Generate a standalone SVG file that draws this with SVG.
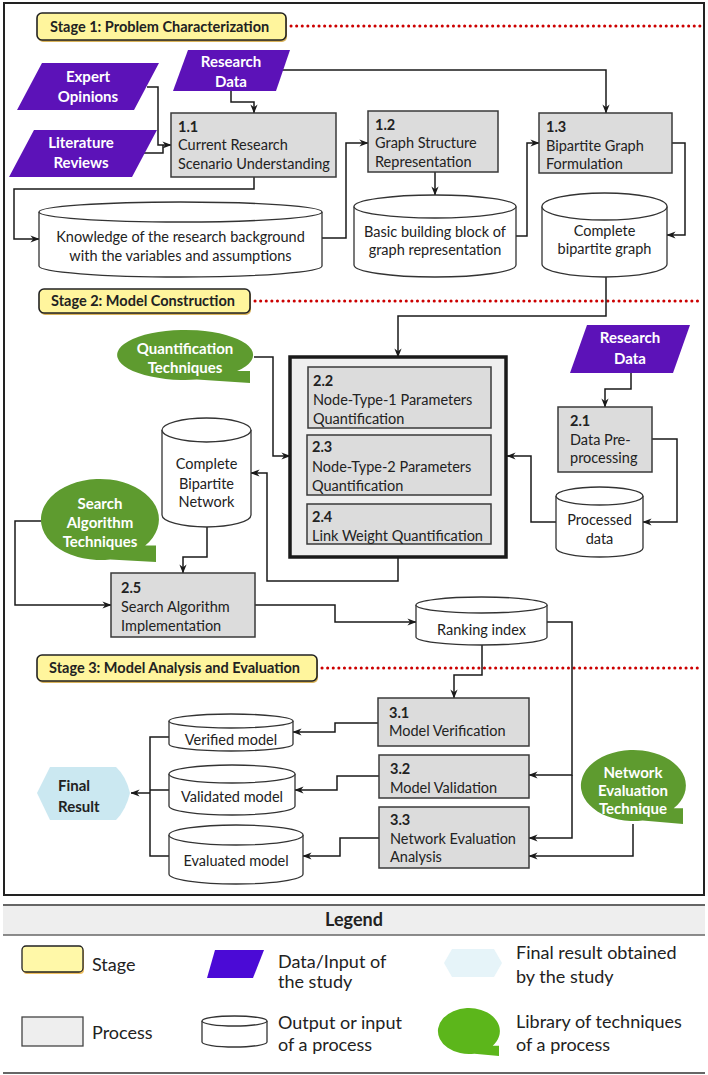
<svg xmlns="http://www.w3.org/2000/svg" width="708" height="1075" viewBox="0 0 708 1075">
<defs>
<style>
.t{font-family:Lato,"Liberation Sans",sans-serif;font-size:14.5px;fill:#222}
.b{font-weight:bold}
.w{fill:#fff;font-weight:bold;font-size:15px}
.c{text-anchor:middle}
.lg{font-size:18px}
.proc{fill:#dcdcdc;stroke:#3a3a3a;stroke-width:1.5}
.cyl{fill:#fff;stroke:#333;stroke-width:1.3}
.data{fill:#5c12b8}
.lib{fill:#5e9b2f}
.stage{fill:#fff59d;stroke:#222;stroke-width:1.6}
.shadow{fill:#d9b35a}
.conn{fill:none;stroke:#1a1a1a;stroke-width:1.5;marker-end:url(#ah)}
.line{fill:none;stroke:#1a1a1a;stroke-width:1.5}
.dots{stroke:#cc0000;stroke-width:3;stroke-dasharray:0.1 5.5;stroke-linecap:round}
</style>
<marker id="ah" viewBox="0 0 10 10" refX="9.5" refY="5" markerWidth="9" markerHeight="9" markerUnits="userSpaceOnUse" orient="auto">
<path d="M0,1 L10,5 L0,9 L3,5 Z" fill="#1a1a1a"/>
</marker>
</defs>
<rect width="708" height="1075" fill="#fff"/>
<rect x="4" y="3" width="700" height="892" fill="none" stroke="#222" stroke-width="2"/>

<!-- stages -->
<g id="stage1">
<rect class="shadow" x="38" y="15" width="249" height="27" rx="5"/>
<rect class="stage" x="37" y="13" width="249" height="27" rx="5"/>
<text class="t b" x="50" y="32">Stage 1: Problem Characterization</text>
<line class="dots" x1="291" y1="26" x2="700" y2="26"/>
</g>
<g id="stage2">
<rect class="shadow" x="40" y="291" width="211" height="24" rx="5"/>
<rect class="stage" x="39" y="289" width="211" height="24" rx="5"/>
<text class="t b" x="51" y="306">Stage 2: Model Construction</text>
<line class="dots" x1="255" y1="301" x2="700" y2="301"/>
</g>
<g id="stage3">
<rect class="shadow" x="38" y="657" width="280" height="26" rx="5"/>
<rect class="stage" x="37" y="655" width="280" height="26" rx="5"/>
<text class="t b" x="49" y="673">Stage 3: Model Analysis and Evaluation</text>
<line class="dots" x1="322" y1="668" x2="700" y2="668"/>
</g>

<!-- connectors -->
<g id="connectors">
<path class="conn" d="M231,91 V102 H254 V113"/>
<path class="conn" d="M147,87 H158 V145 H171"/>
<path class="line" d="M138,153 H163 V145"/>
<path class="conn" d="M282,70 H606 V113"/>
<path class="conn" d="M254,177 V189 H14 V239 H39"/>
<path class="conn" d="M322,238 H346 V143 H368"/>
<path class="conn" d="M435,172 V195"/>
<path class="conn" d="M516,236 H527 V143 H539"/>
<path class="conn" d="M672,143 H685 V235 H667"/>
<path class="conn" d="M606,277 V316 H398 V357"/>
<path class="conn" d="M254,357 H273 V456 H290"/>
<path class="conn" d="M631,373 V389 H605 V407"/>
<path class="conn" d="M652,439 H677 V522 H643"/>
<path class="conn" d="M556,522 H531 V456 H507"/>
<path class="conn" d="M398,557 V581 H267 V473 H251"/>
<path class="conn" d="M207,527 V557 H183 V573"/>
<path class="conn" d="M41,521 H15 V605 H111"/>
<path class="conn" d="M255,605 H335 V622 H416"/>
<path class="conn" d="M482,645 V675 H454 V698"/>
<path class="conn" d="M547,622 H572 V775 H529"/>
<path class="conn" d="M572,775 V838 H529"/>
<path class="conn" d="M633,824 V856 H529"/>
<path class="conn" d="M378,723 H335 V732 H293"/>
<path class="conn" d="M379,776 H337 V790 H295"/>
<path class="conn" d="M379,838 H340 V856 H303"/>
<path class="line" d="M169,737 H150 V856 H169 M169,790 H150"/>
<path class="conn" d="M150,793 H131"/>
</g>

<!-- stage 1 nodes -->
<g id="expert-opinions">
<polygon class="data" points="42,63 159,63 134,110 17,110"/>
<text class="t w c" x="88" y="82">Expert</text>
<text class="t w c" x="88" y="102">Opinions</text>
</g>
<g id="literature-reviews">
<polygon class="data" points="34,130 157,130 132,177 9,177"/>
<text class="t w c" x="81" y="148">Literature</text>
<text class="t w c" x="81" y="168">Reviews</text>
</g>
<g id="research-data-1">
<polygon class="data" points="188,50 290,50 276,91 173,91"/>
<text class="t w c" x="231" y="67">Research</text>
<text class="t w c" x="231" y="87">Data</text>
</g>
<g id="p1-1">
<rect class="proc" x="171" y="113" width="165" height="64"/>
<text class="t b" x="178" y="132">1.1</text>
<text class="t" x="178" y="150">Current Research</text>
<text class="t" x="178" y="169">Scenario Understanding</text>
</g>
<g id="p1-2">
<rect class="proc" x="368" y="111" width="130" height="61"/>
<text class="t b" x="375" y="130">1.2</text>
<text class="t" x="375" y="148">Graph Structure</text>
<text class="t" x="375" y="167">Representation</text>
</g>
<g id="p1-3">
<rect class="proc" x="539" y="113" width="133" height="60"/>
<text class="t b" x="546" y="132">1.3</text>
<text class="t" x="546" y="151">Bipartite Graph</text>
<text class="t" x="546" y="169">Formulation</text>
</g>
<g id="knowledge">
<path class="cyl" d="M39,212 V266 A141.5,11 0 0 0 322,266 V212"/>
<ellipse class="cyl" cx="180.5" cy="212" rx="141.5" ry="10"/>
<text class="t c" x="180.5" y="242">Knowledge of the research background</text>
<text class="t c" x="180.5" y="261">with the variables and assumptions</text>
</g>
<g id="basic-block">
<path class="cyl" d="M354,206.5 V265 A81,12 0 0 0 516,265 V206.5"/>
<ellipse class="cyl" cx="435" cy="206.5" rx="81" ry="11.5"/>
<text class="t c" x="435" y="237">Basic building block of</text>
<text class="t c" x="435" y="255">graph representation</text>
</g>
<g id="complete-graph">
<path class="cyl" d="M542,206.5 V264 A62.5,13 0 0 0 667,264 V206.5"/>
<ellipse class="cyl" cx="604.5" cy="206.5" rx="62.5" ry="13.5"/>
<text class="t c" x="604.5" y="236">Complete</text>
<text class="t c" x="604.5" y="254">bipartite graph</text>
</g>

<!-- stage 2 nodes -->
<g id="quant-tech">
<path class="lib" d="M237.1,371.1 A68,25 0 1 0 196.8,379.6 L250,383 L250,371.1 Z"/>
<text class="t w c" x="185" y="354">Quantification</text>
<text class="t w c" x="185" y="373">Techniques</text>
</g>
<g id="model-box">
<rect x="290" y="357" width="216" height="200" fill="#efefef" stroke="#1a1a1a" stroke-width="3.5"/>
<g id="p2-2">
<rect class="proc" x="308" y="367" width="183" height="61"/>
<text class="t b" x="313" y="386">2.2</text>
<text class="t" x="313" y="405">Node-Type-1 Parameters</text>
<text class="t" x="313" y="424">Quantification</text>
</g>
<g id="p2-3">
<rect class="proc" x="307" y="435" width="184" height="60"/>
<text class="t b" x="312" y="452">2.3</text>
<text class="t" x="312" y="472">Node-Type-2 Parameters</text>
<text class="t" x="312" y="491">Quantification</text>
</g>
<g id="p2-4">
<rect class="proc" x="307" y="504" width="184" height="40"/>
<text class="t b" x="312" y="522">2.4</text>
<text class="t" x="312" y="541">Link Weight Quantification</text>
</g>
</g>
<g id="research-data-2">
<polygon class="data" points="587,325 690,325 673,373 570,373"/>
<text class="t w c" x="630" y="343">Research</text>
<text class="t w c" x="630" y="364">Data</text>
</g>
<g id="p2-1">
<rect class="proc" x="558" y="407" width="94" height="65"/>
<text class="t b" x="570" y="426">2.1</text>
<text class="t" x="570" y="445">Data Pre-</text>
<text class="t" x="570" y="463">processing</text>
</g>
<g id="processed-data">
<path class="cyl" d="M556,496 V548 A43.5,9 0 0 0 643,548 V496"/>
<ellipse class="cyl" cx="599.5" cy="496" rx="43.5" ry="9"/>
<text class="t c" x="599.5" y="525">Processed</text>
<text class="t c" x="599.5" y="544">data</text>
</g>
<g id="complete-network">
<path class="cyl" d="M162,430 V515 A44.5,12 0 0 0 251,515 V430"/>
<ellipse class="cyl" cx="206.5" cy="430" rx="44.5" ry="12"/>
<text class="t c" x="206.5" y="469">Complete</text>
<text class="t c" x="206.5" y="489">Bipartite</text>
<text class="t c" x="206.5" y="507">Network</text>
</g>
<g id="search-tech">
<path class="lib" d="M145.2,545.5 A59,40.5 0 1 0 110.2,559.4 L156,562 L156,545.5 Z"/>
<text class="t w c" x="100" y="509">Search</text>
<text class="t w c" x="100" y="528">Algorithm</text>
<text class="t w c" x="100" y="547">Techniques</text>
</g>
<g id="p2-5">
<rect class="proc" x="111" y="573" width="144" height="64"/>
<text class="t b" x="121" y="593">2.5</text>
<text class="t" x="121" y="612">Search Algorithm</text>
<text class="t" x="121" y="631">Implementation</text>
</g>
<g id="ranking-index">
<path class="cyl" d="M416,605 V637 A65.5,8 0 0 0 547,637 V605"/>
<ellipse class="cyl" cx="481.5" cy="605" rx="65.5" ry="8"/>
<text class="t c" x="481.5" y="635">Ranking index</text>
</g>

<!-- stage 3 nodes -->
<g id="p3-1">
<rect class="proc" x="378" y="698" width="151" height="48"/>
<text class="t b" x="389" y="718">3.1</text>
<text class="t" x="389" y="736">Model Verification</text>
</g>
<g id="p3-2">
<rect class="proc" x="379" y="755" width="150" height="43"/>
<text class="t b" x="390" y="774">3.2</text>
<text class="t" x="390" y="793">Model Validation</text>
</g>
<g id="p3-3">
<rect class="proc" x="379" y="807" width="150" height="61"/>
<text class="t b" x="390" y="825">3.3</text>
<text class="t" x="390" y="844">Network Evaluation</text>
<text class="t" x="390" y="862">Analysis</text>
</g>
<g id="net-eval-tech">
<path class="lib" d="M673.7,808.3 A52.5,35.5 0 1 0 642.6,820.5 L683,824 L683,808.3 Z"/>
<text class="t w c" x="633" y="778">Network</text>
<text class="t w c" x="633" y="796">Evaluation</text>
<text class="t w c" x="633" y="814">Technique</text>
</g>
<g id="verified-model">
<path class="cyl" d="M169,721 V744 A62,7 0 0 0 293,744 V721"/>
<ellipse class="cyl" cx="231" cy="721" rx="62" ry="7"/>
<text class="t c" x="231" y="745">Verified model</text>
</g>
<g id="validated-model">
<path class="cyl" d="M169,774 V806 A63,9 0 0 0 295,806 V774"/>
<ellipse class="cyl" cx="232" cy="774" rx="63" ry="9"/>
<text class="t c" x="232" y="802">Validated model</text>
</g>
<g id="evaluated-model">
<path class="cyl" d="M169,835 V874 A67,10 0 0 0 303,874 V835"/>
<ellipse class="cyl" cx="236" cy="835" rx="67" ry="10"/>
<text class="t c" x="236" y="866">Evaluated model</text>
</g>
<g id="final-result">
<path d="M37,793 L50,767 L116,767 Q126,776 130,793 Q126,810 116,820 L50,820 Z" fill="#cbe8f1"/>
<text class="t b" x="58" y="791" style="font-size:15px">Final</text>
<text class="t b" x="58" y="812" style="font-size:15px">Result</text>
</g>

<!-- legend -->
<g id="legend">
<rect x="3" y="905" width="702" height="30" fill="#eeeeee"/>
<line x1="3" y1="905" x2="705" y2="905" stroke="#666" stroke-width="2"/>
<line x1="3" y1="935" x2="705" y2="935" stroke="#666" stroke-width="1.5"/>
<line x1="3" y1="1073" x2="705" y2="1073" stroke="#666" stroke-width="2"/>
<text class="t b c lg" x="354" y="926">Legend</text>
<rect x="23" y="948" width="61" height="26" rx="4" fill="#f0c060"/>
<rect x="22" y="946" width="61" height="26" rx="4" fill="#fff8a8" stroke="#222" stroke-width="1.3"/>
<text class="t lg" x="92" y="971">Stage</text>
<polygon points="215,950 264,950 253,978 207,978" fill="#4b0ad6"/>
<text class="t lg" x="278" y="968">Data/Input of</text>
<text class="t lg" x="278" y="988">the study</text>
<path d="M444,963 L452,949 L494,949 L502,963 L494,977 L452,977 Z" fill="#e6f4f9"/>
<text class="t lg" x="516" y="959">Final result obtained</text>
<text class="t lg" x="516" y="983">by the study</text>
<rect x="22" y="1017" width="61" height="29" fill="#eeeeee" stroke="#444" stroke-width="1.3"/>
<text class="t lg" x="92" y="1039">Process</text>
<path d="M202,1021 V1042 A32.5,5 0 0 0 267,1042 V1021" fill="#fff" stroke="#333" stroke-width="1.3"/>
<ellipse cx="234.5" cy="1021" rx="32.5" ry="5" fill="#fff" stroke="#333" stroke-width="1.3"/>
<text class="t lg" x="278" y="1029">Output or input</text>
<text class="t lg" x="278" y="1051">of a process</text>
<path d="M492.7,1045.8 A31,23 0 1 0 474.4,1053.7 L499,1056 L499,1045.8 Z" fill="#5cb61b"/>
<text class="t lg" x="516" y="1028">Library of techniques</text>
<text class="t lg" x="516" y="1051">of a process</text>
</g>
</svg>
